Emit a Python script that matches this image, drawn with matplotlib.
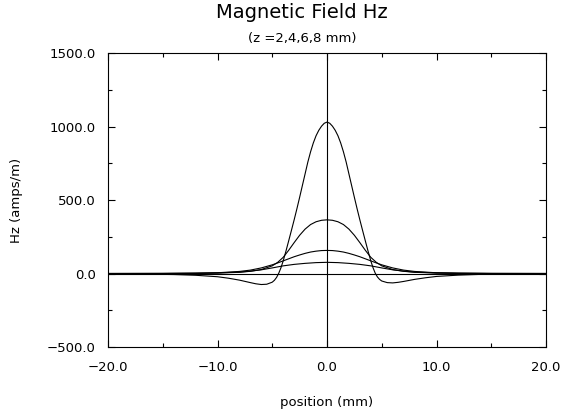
import numpy as np
import matplotlib
matplotlib.use("Agg")
import matplotlib.pyplot as plt
from matplotlib.ticker import MultipleLocator, FuncFormatter

# Hz (amps/m) against position (mm), one curve per height z
x_z2 = [-20, -17, -14, -12, -10, -9, -8, -7, -6.5, -6, -5.5, -5, -4.8, -4.6, -4.4, -4.2,
        -4, -3.75, -3.5, -3.25, -3, -2.75, -2.5, -2.25, -2, -1.75, -1.5, -1.25, -1,
        -0.75, -0.5, -0.25, 0, 0.25, 0.5, 0.75, 1, 1.25, 1.5, 1.75, 2, 2.25, 2.5, 2.75,
        3, 3.25, 3.5, 3.75, 4, 4.2, 4.4, 4.6, 4.8, 5, 5.5, 6, 6.5, 7, 8, 9, 10, 12, 14,
        17, 20]
hz_z2 = [-2, -4, -7, -12, -22, -32, -45, -62, -70, -75, -73, -59, -46, -26, 3, 40,
         86, 152, 222, 293, 365, 440, 518, 598, 678, 758, 828, 888, 937,
         974, 1002, 1022, 1030, 1022, 1002, 974, 937, 888, 828, 758, 678, 598, 518, 440,
         365, 293, 222, 152, 86, 40, 3, -23, -40, -51, -62, -64, -60, -54, -40, -29, -20,
         -11, -6, -3, -2]

x_z4 = [-20, -15, -12, -10, -8, -7, -6, -5, -4.5, -4, -3.5, -3, -2.5, -2, -1.5, -1, -0.5,
        0, 0.5, 1, 1.5, 2, 2.5, 3, 3.5, 4, 4.5, 5, 6, 7, 8, 10, 12, 15, 20]
hz_z4 = [0, 0, 1, 3, 8, 15, 27, 52, 76, 110, 158, 210, 260, 302, 333, 352, 362,
         365, 362, 352, 333, 302, 260, 210, 158, 110, 76, 52, 27, 15, 8, 3, 1, 0, 0]

x_z6 = [-20, -15, -12, -10, -8, -7, -6, -5, -4.5, -4, -3.5, -3, -2.5, -2, -1.5, -1, -0.5,
        0, 0.5, 1, 1.5, 2, 2.5, 3, 3.5, 4, 4.5, 5, 6, 7, 8, 10, 12, 15, 20]
hz_z6 = [0, 0, 2, 5, 14, 23, 38, 59, 72, 86, 100, 114, 126, 137, 146, 152, 156,
         157, 156, 152, 146, 137, 126, 114, 100, 86, 72, 59, 38, 23, 14, 5, 2, 0, 0]

x_z8 = [-20, -15, -12, -10, -8, -7, -6, -5, -4, -3, -2, -1, 0,
        1, 2, 3, 4, 5, 6, 7, 8, 10, 12, 15, 20]
hz_z8 = [0, 1, 2, 4, 10, 16, 25, 38, 52, 62, 69, 74, 76,
         74, 69, 62, 52, 38, 25, 16, 10, 4, 2, 1, 0]

fig = plt.figure(figsize=(5.64, 4.15), dpi=100)
ax = fig.add_axes([108 / 564, 1 - 347 / 415, 438 / 564, 294 / 415])

for xs, hs in [(x_z2, hz_z2), (x_z4, hz_z4), (x_z6, hz_z6), (x_z8, hz_z8)]:
    ax.plot(xs, hs, color="black", lw=0.8)

ax.axhline(0, color="black", lw=0.8)
ax.axvline(0, color="black", lw=0.8)

ax.set_xlim(-20, 20)
ax.set_ylim(-500, 1500)
ax.xaxis.set_major_locator(MultipleLocator(10))
ax.xaxis.set_minor_locator(MultipleLocator(5))
ax.yaxis.set_major_locator(MultipleLocator(500))
ax.yaxis.set_minor_locator(MultipleLocator(250))
fmt = FuncFormatter(lambda v, p: f"{v:.1f}".replace("-", "\u2212"))
ax.xaxis.set_major_formatter(fmt)
ax.yaxis.set_major_formatter(fmt)
ax.tick_params(which="both", direction="in", top=True, right=True, width=0.8,
               labelsize=9.5)
ax.tick_params(which="major", length=5)
ax.tick_params(which="minor", length=3)
ax.tick_params(axis="x", pad=10)
ax.tick_params(axis="y", pad=9)
for s in ax.spines.values():
    s.set_linewidth(0.8)

ax.set_xlabel("position (mm)", fontsize=9.5, labelpad=16)
ax.set_ylabel("Hz (amps/m)", fontsize=9.5, labelpad=17)

fig.text(302 / 564, 1 - 18 / 415, "Magnetic Field Hz", fontsize=14, ha="center",
         va="baseline")
fig.text(302 / 564, 1 - 42 / 415, "(z =2,4,6,8 mm)", fontsize=9.5, ha="center",
         va="baseline")

fig.savefig("out.png", dpi=100)
